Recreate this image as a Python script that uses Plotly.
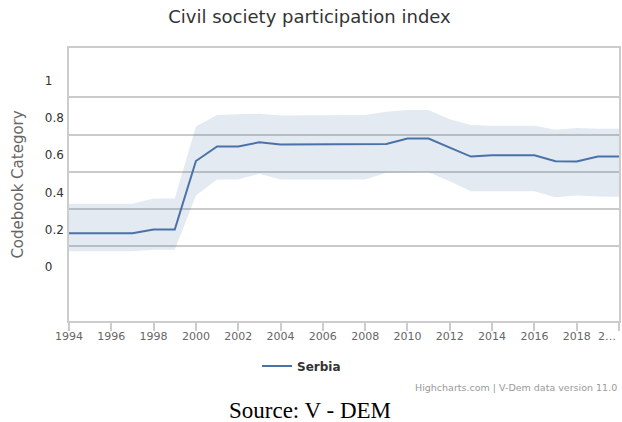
import plotly.graph_objects as go

years = list(range(1994, 2021))
serbia = [0.18, 0.18, 0.18, 0.18, 0.20, 0.20, 0.568, 0.646, 0.646, 0.669,
          0.657, 0.657, 0.657, 0.657, 0.657, 0.66, 0.689, 0.689, 0.64, 0.592,
          0.599, 0.599, 0.599, 0.567, 0.565, 0.592, 0.592]
upper = [0.338, 0.338, 0.338, 0.338, 0.367, 0.367, 0.754, 0.815, 0.819, 0.822,
         0.812, 0.812, 0.812, 0.812, 0.815, 0.833, 0.842, 0.842, 0.793, 0.762,
         0.757, 0.757, 0.757, 0.736, 0.746, 0.742, 0.742]
lower = [0.083, 0.083, 0.083, 0.083, 0.092, 0.092, 0.383, 0.469, 0.469, 0.50,
         0.469, 0.469, 0.469, 0.469, 0.469, 0.505, 0.508, 0.508, 0.46, 0.406,
         0.406, 0.406, 0.406, 0.374, 0.383, 0.378, 0.376]

x_tickvals = list(range(1994, 2021, 2))
x_ticktext = [str(v) for v in x_tickvals[:-1]] + [""]
last_tick_label = "2\u2026"  # truncated "2020", as in the source chart
y_tickvals = [0, 0.2, 0.4, 0.6, 0.8, 1]
y_ticktext = ["0\u00a0\u00a0\u00a0", "0.2", "0.4", "0.6", "0.8", "1\u00a0\u00a0\u00a0"]
grid_vals = [0.11, 0.31, 0.51, 0.71, 0.91]
y_range = [-0.291, 1.175]

FONT = "DejaVu Sans"
fig = go.Figure()
fig.add_trace(go.Scatter(x=years, y=upper, mode="lines", line=dict(width=0),
                         showlegend=False, hoverinfo="skip", yaxis="y"))
fig.add_trace(go.Scatter(x=years, y=lower, mode="lines", line=dict(width=0),
                         fill="tonexty", fillcolor="rgba(69,114,167,0.15)",
                         showlegend=False, hoverinfo="skip", yaxis="y"))
fig.add_trace(go.Scatter(x=years, y=serbia, mode="lines", name="Serbia",
                         line=dict(color="#4a72a8", width=2), yaxis="y2"))

fig.update_layout(
    width=622, height=422,
    margin=dict(l=69, r=3, t=48, b=101),
    paper_bgcolor="white", plot_bgcolor="white",
    font=dict(family=FONT, color="#333"),
    title=dict(text="Civil society participation index", x=0.4976, xanchor="center",
               y=1 - 17 / 422, yanchor="middle", yref="container",
               font=dict(size=18, color="#333", family=FONT)),
    xaxis=dict(range=[1994, 2020], tickvals=x_tickvals, ticktext=x_ticktext,
               ticks="outside", ticklen=8, tickcolor="#ccc", tickwidth=1.5,
               showgrid=False, zeroline=False, showline=True, mirror=True,
               linecolor="#ccc", linewidth=1.5, automargin=False,
               ticklabelstandoff=-4,
               tickfont=dict(size=11, color="#666", family=FONT)),
    yaxis=dict(range=y_range, tickvals=y_tickvals, ticktext=y_ticktext,
               showgrid=False, zeroline=False, showline=True, mirror=True,
               linecolor="#ccc", linewidth=1.5, ticks="", ticklabelstandoff=1,
               automargin=False,
               tickfont=dict(size=12, color="#333", family=FONT),
               title=dict(text="Codebook Category", standoff=18,
                          font=dict(size=15, color="#666", family=FONT))),
    yaxis2=dict(range=y_range, overlaying="y", side="left", tickvals=grid_vals,
                showticklabels=False, showgrid=True, gridcolor="#cacaca",
                gridwidth=1.5, zeroline=False, showline=False, ticks="",
                automargin=False),
    legend=dict(orientation="h", xref="container", yref="container",
                x=257 / 622, xanchor="left", y=1 - 366 / 422, yanchor="middle",
                font=dict(size=12, color="#333", family=FONT, weight="bold")),
    annotations=[
        dict(text=last_tick_label, xref="paper", yref="paper",
             x=1.0, y=(321 - 336) / 273, xanchor="right", yanchor="middle",
             xshift=-1, showarrow=False, font=dict(size=11, color="#666", family=FONT)),
        dict(text="Highcharts.com | V-Dem data version 11.0", xref="paper", yref="paper",
             x=1.0, y=(321 - 387) / 273, xanchor="right", yanchor="middle",
             showarrow=False, font=dict(size=9.5, color="#999", family=FONT)),
        dict(text="Source: V - DEM", xref="paper", yref="paper",
             x=(310 - 69) / 550, y=(321 - 410) / 273, xanchor="center", yanchor="middle",
             showarrow=False, font=dict(size=23, color="#000", family="Liberation Serif")),
    ],
)
fig.write_html("out.html", config={"displayModeBar": False},
               post_script="document.body.style.margin='0';document.body.style.padding='0';")
